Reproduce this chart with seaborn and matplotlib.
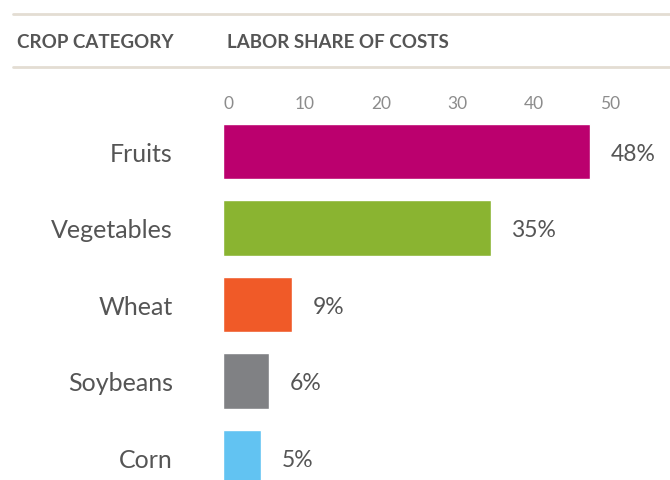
import numpy as np
import pandas as pd
import matplotlib.pyplot as plt
import seaborn as sns
from matplotlib.lines import Line2D
from matplotlib.transforms import ScaledTranslation

crops = ["Fruits", "Vegetables", "Wheat", "Soybeans", "Corn"]
labor_share = [48, 35, 9, 6, 5]
bar_colors = ["#bb006e", "#8ab431", "#f05a28", "#808184", "#62c3f2"]
x_ticks = [0, 10, 20, 30, 40, 50]

df = pd.DataFrame({"crop": crops, "share": labor_share})

sns.set_theme(style="white")
plt.rcParams["font.family"] = ["Lato", "DejaVu Sans"]

W, H = 670, 481
fig = plt.figure(figsize=(W / 100, H / 100), dpi=100)

# axes placed in pixel terms so bars line up with the reference
ax_left, ax_top = 223, 115
ax = fig.add_axes([ax_left / W, 0, (W - ax_left) / W, (H - ax_top) / H])

sns.barplot(data=df, x="share", y="crop", hue="crop", palette=bar_colors,
            order=crops, hue_order=crops, orient="h", width=0.72,
            legend=False, saturation=1, ax=ax)

px_per_unit = (590 - 223) / 48
ax.set_xlim(0, (W - ax_left) / px_per_unit)
row_px, first_px = 76.5, 152.5
ax.set_ylim((H - first_px) / row_px, (ax_top - first_px) / row_px)

for cont in ax.containers:
    vals = [int(round(b.get_width())) for b in cont]
    txts = ax.bar_label(cont, labels=[f"{v}%" for v in vals], padding=15,
                        fontsize=16.5, color="#555555")
    for t in txts:
        t.set_va("center_baseline")

ax.xaxis.tick_top()
ax.set_xticks(x_ticks)
ax.set_xticklabels([str(t) for t in x_ticks])
ax.tick_params(axis="x", length=0, pad=2, labelsize=12.5, labelcolor="#8c8c8c")
shift = ScaledTranslation(5 / 100, 0, fig.dpi_scale_trans)
for lab in ax.get_xticklabels():
    lab.set_transform(lab.get_transform() + shift)

ax.tick_params(axis="y", length=0, pad=36, labelsize=18, labelcolor="#555555")
ax.set_xlabel("")
ax.set_ylabel("")
for s in ax.spines.values():
    s.set_visible(False)
ax.grid(False)

# header band
line_col = "#e3ddd3"
for ypx in (15, 68):
    fig.add_artist(Line2D([13 / W, 1], [1 - ypx / H] * 2, color=line_col, lw=2))
fig.text(17 / W, 1 - 42 / H, "CROP CATEGORY", fontsize=13.5, fontweight="bold",
         color="#555555", va="center", ha="left")
fig.text(227 / W, 1 - 42 / H, "LABOR SHARE OF COSTS", fontsize=13.5, fontweight="bold",
         color="#555555", va="center", ha="left")

fig.savefig("out.png", dpi=100)
